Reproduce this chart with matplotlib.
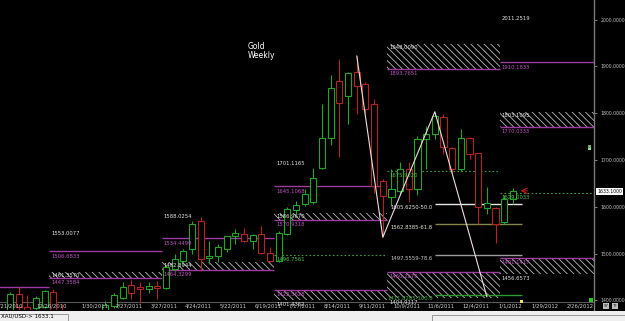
import pandas as pd
import matplotlib
matplotlib.use("Agg")
import matplotlib.pyplot as plt
import matplotlib.transforms as mtransforms
from matplotlib.patches import Rectangle

plt.rcParams['hatch.linewidth'] = 0.6

# weekly XAU/USD bars, week 0 = week of 2010-11-28
opens = [1365, 1414, 1386, 1385, 1386, 1418, 1369, 1361, 1342, 1334,
         1350, 1361, 1389, 1405, 1433, 1428, 1424, 1430, 1427, 1467,
         1484, 1510, 1570, 1491, 1495, 1510, 1538, 1542, 1527, 1542,
         1501, 1484, 1542, 1594, 1606, 1610, 1684, 1748, 1868, 1836,
         1887, 1862, 1820, 1656, 1622, 1634, 1681, 1638, 1745, 1755,
         1791, 1725, 1681, 1746, 1716, 1597, 1597, 1567, 1617]
highs = [1418, 1429, 1412, 1409, 1423, 1424, 1392, 1375, 1348, 1358,
         1368, 1398, 1416, 1440, 1444, 1440, 1440, 1442, 1475, 1499,
         1510, 1570, 1579, 1527, 1521, 1538, 1553, 1555, 1542, 1559,
         1514, 1548, 1599, 1613, 1638, 1684, 1820, 1881, 1916, 1888,
         1922, 1866, 1830, 1659, 1681, 1695, 1695, 1752, 1773, 1803,
         1798, 1727, 1766, 1749, 1716, 1642, 1599, 1625, 1640]
lows = [1362, 1380, 1376, 1380, 1383, 1353, 1355, 1335, 1309, 1327,
        1340, 1357, 1385, 1403, 1403, 1395, 1415, 1403, 1424, 1463,
        1478, 1499, 1463, 1478, 1482, 1504, 1521, 1525, 1510, 1499,
        1482, 1482, 1540, 1585, 1602, 1606, 1681, 1731, 1706, 1777,
        1798, 1800, 1630, 1535, 1602, 1627, 1610, 1625, 1681, 1745,
        1713, 1672, 1676, 1702, 1563, 1585, 1523, 1563, 1606]
closes = [1414, 1386, 1378, 1405, 1420, 1369, 1360, 1342, 1334, 1349,
          1360, 1390, 1412, 1429, 1416, 1425, 1430, 1427, 1472, 1489,
          1506, 1563, 1489, 1495, 1514, 1538, 1544, 1527, 1540, 1501,
          1484, 1544, 1595, 1603, 1627, 1661, 1746, 1853, 1822, 1886,
          1857, 1809, 1645, 1624, 1638, 1681, 1638, 1745, 1755, 1795,
          1727, 1681, 1748, 1713, 1599, 1608, 1563, 1617, 1633.1]
last_price = 1633.1

start_date = "2010-11-28"
date_labels = ["11/21/2010", "12/26/2010", "1/30/2011", "2/27/2011", "3/27/2011",
               "4/24/2011", "5/22/2011", "6/19/2011", "7/17/2011", "8/14/2011",
               "9/11/2011", "10/9/2011", "11/6/2011", "12/4/2011", "1/1/2012",
               "1/29/2012", "2/26/2012"]

# quarterly pivot segments (week boundaries)
seg_bounds = [-8.5, 4.5, 17.5, 30.5, 43.5, 56.5, 69.5]

pivot_seg = [0, 1, 2, 3, 5]
pivot_val = [1428.7, 1506.6833, 1534.4499, 1645.1068, 1910.1833]

top_seg = [1, 2, 3, 5]
top_val = [1553.0077, 1588.0254, 1701.1165, 2011.2519]

res_seg = [1, 2, 3, 4, 5]
res_lo = [1447.3584, 1464.3299, 1570.9318, 1893.7651, 1770.0333]
res_hi = [1461.3570, 1482.8944, 1586.9670, 1948.0090, 1803.1095]

sup_seg = [3, 4, 5]
sup_hi = [1422.5628, 1460.2670, 1491.1417]
sup_lo = [1401.4362, 1404.9117, 1456.6573]

mid_seg = [3, 4, 5]
mid_val = [1496.7561, 1675.9320, 1629.0033]

fib_from, fib_to = 49, 59
fib_val = [1605.6250, 1562.8385, 1497.5559, 1411.8205]
fib_pct = ["50.0", "61.8", "78.6", "100.0"]

zz_weeks = [40, 43, 49, 55]
zz_prices = [1922, 1535, 1803, 1408]

GREEN = "#22a622"
RED = "#b42222"
PURPLE = "#a03ca0"
PLAB = "#c452c4"
WHITE = "#e4e4e4"
FS = 3.8

fig = plt.figure(figsize=(6.25, 3.21), dpi=100, facecolor="black")
ax = fig.add_axes([0, 11 / 321, 594 / 625, 310 / 321])
ax.set_facecolor("black")
ax.set_xlim(-1.153, 67.36)
ax.set_ylim(1379.7, 2041.7)

def label(x, y, txt, color, dy=-2, ha="left", dx=2):
    ax.annotate(txt, (x, y), xytext=(dx, dy), textcoords="offset pixels",
                va="top", ha=ha, fontsize=FS, color=color, zorder=7,
                annotation_clip=True)

# resistance zones
for s, lo, hi in zip(res_seg, res_lo, res_hi):
    x0, x1 = seg_bounds[s], seg_bounds[s + 1]
    ax.add_patch(Rectangle((x0, lo), x1 - x0, hi - lo, facecolor="black",
                           edgecolor="#b8b8b8", lw=0, hatch="\\" * 5, zorder=1))
    ax.hlines(lo, x0, x1, color=PURPLE, lw=1, zorder=2)
    label(x0, hi, f"{hi:.4f}", WHITE, dy=-1)
    label(x0, lo, f"{lo:.4f}", PLAB, dy=-2)

# support zones
for s, lo, hi in zip(sup_seg, sup_lo, sup_hi):
    x0, x1 = seg_bounds[s], seg_bounds[s + 1]
    ax.add_patch(Rectangle((x0, lo), x1 - x0, hi - lo, facecolor="black",
                           edgecolor="#b8b8b8", lw=0, hatch="\\" * 5, zorder=1))
    ax.hlines(hi, x0, x1, color=PURPLE, lw=1, zorder=2)
    label(x0, hi, f"{hi:.4f}", PLAB, dy=-2)
    label(x0, lo, f"{lo:.4f}", WHITE, dy=-2)

for s, v in zip(pivot_seg, pivot_val):
    x0, x1 = seg_bounds[s], seg_bounds[s + 1]
    ax.hlines(v, x0, x1, color=PURPLE, lw=1, zorder=2)
    if x0 > ax.get_xlim()[0]:
        label(x0, v, f"{v:.4f}", PLAB, dy=-3)

for s, v in zip(top_seg, top_val):
    label(seg_bounds[s], v, f"{v:.4f}", WHITE, dy=-2)

for s, v in zip(mid_seg, mid_val):
    x0, x1 = seg_bounds[s], seg_bounds[s + 1]
    ax.hlines(v, x0, x1, color="#3c9c3c", lw=0.8, linestyles=(0, (1.5, 2)), zorder=2)
    label(x0, v, f"{v:.4f}", "#4cc44c", dy=-2)

fib_colors = ["#e8e8e8", "#85854e", "#9a9a9a", "#2e9a2e"]
fib_text = ["#e8e8e8", "#e0e0c0", "#c8c8c8", "#3cb43c"]
for v, p, c, tc in zip(fib_val, fib_pct, fib_colors, fib_text):
    ax.hlines(v, fib_from, fib_to, color=c, lw=1, zorder=2)
    label(fib_from, v, f"{v:.4f}-{p}", tc, dy=-1, ha="right", dx=-2)

# candles
for i, (o, h, l, c) in enumerate(zip(opens, highs, lows, closes)):
    col = GREEN if c >= o else RED
    ax.vlines(i, l, h, color=col, lw=0.8, zorder=4)
    ax.add_patch(Rectangle((i - 0.35, min(o, c)), 0.7, max(abs(c - o), 0.8),
                           facecolor="black", edgecolor=col, lw=0.8, zorder=5))

ax.plot(zz_weeks, zz_prices, color="#ecdede", lw=0.8, zorder=6)

ax.annotate("", xy=(58.6, last_price + 1), xytext=(60.0, last_price + 1),
            arrowprops=dict(arrowstyle="->", color="#d02020", lw=0.7), zorder=7)

# date labels along the bottom band
bt = mtransforms.blended_transform_factory(ax.transData, ax.transAxes)
t0 = pd.Timestamp(start_date)
for d in date_labels:
    w = (pd.Timestamp(d) - t0).days / 7
    ax.text(w + 0.75, 4 / 310, d, transform=bt, ha="center", va="center",
            fontsize=FS, color="#cfcfcf", clip_on=False, zorder=8)
ax.plot([0, 1], [8 / 310, 8 / 310], transform=ax.transAxes, color="#5a5a5a", lw=0.8, zorder=3)

# axes styling
for sp in ["top", "left", "bottom"]:
    ax.spines[sp].set_visible(False)
ax.spines["right"].set_color("#7a7a7a")
ax.spines["right"].set_linewidth(1)
ax.set_xticks([])
ax.yaxis.tick_right()
ax.set_yticks(range(1400, 2001, 100))
ax.set_yticklabels([f"{v:.4f}" for v in range(1400, 2001, 100)])
ax.tick_params(axis="y", length=2, width=0.6, color="#909090", labelcolor="#c0c0c0",
               labelsize=3.3, pad=2.5, direction="out")

yt = mtransforms.blended_transform_factory(ax.transAxes, ax.transData)
ax.text(1.005, last_price, f"{last_price:.4f}", transform=yt, fontsize=3.3, color="black",
        va="center", ha="left", clip_on=False, zorder=9,
        bbox=dict(facecolor="white", edgecolor="none", pad=0.8))

ax.text(0.9925, 1 - 147.5 / 310, "0", transform=ax.transAxes, fontsize=3, color="#103010",
        ha="center", va="center", bbox=dict(facecolor="#8fd88f", edgecolor="none", pad=0.3))
ax.add_patch(Rectangle((589 / 594, 8 / 310), 4 / 594, 4 / 310, transform=ax.transAxes,
                       facecolor="#22cc22", edgecolor="none", zorder=9, clip_on=False))
ax.add_patch(Rectangle((520 / 594, 7 / 310), 3 / 594, 3 / 310, transform=ax.transAxes,
                       facecolor="#e8e070", edgecolor="none", zorder=9, clip_on=False))

fig.text(248 / 625, 1 - 42 / 321, "Gold\nWeekly", fontsize=5.5, color="white",
         va="top", ha="left", linespacing=1.0)

# status bar
fig.patches.append(Rectangle((0, 0), 1, 10.5 / 321, transform=fig.transFigure,
                             facecolor="#efefef", edgecolor="none"))
fig.patches.append(Rectangle((-0.01, -0.01), 74 / 625, 10 / 321, transform=fig.transFigure,
                             fill=False, edgecolor="#8a8a8a", lw=0.6))
fig.patches.append(Rectangle((432 / 625, -0.01), 0.4, 9 / 321, transform=fig.transFigure,
                             fill=False, edgecolor="#8a8a8a", lw=0.6))
fig.text(1 / 625, 4.5 / 321, "XAU/USD-> 1633.1", fontsize=4, color="black", va="center")
fig.text(606 / 625, 15 / 321, "SY", fontsize=3, color="#202020", va="center", ha="center",
         bbox=dict(facecolor="#bdbdbd", edgecolor="none", pad=0.4))
fig.text(615 / 625, 15 / 321, "TF", fontsize=3, color="#202020", va="center", ha="center",
         bbox=dict(facecolor="#bdbdbd", edgecolor="none", pad=0.4))

fig.savefig("out.png", dpi=100, facecolor="black")
